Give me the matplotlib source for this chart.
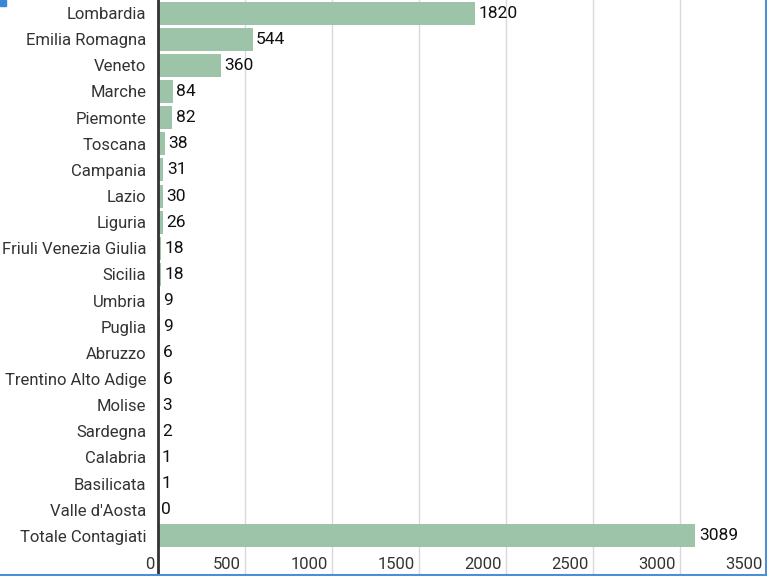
import matplotlib
matplotlib.use("Agg")
import matplotlib.pyplot as plt
from matplotlib.transforms import ScaledTranslation
from matplotlib.patches import Rectangle
from matplotlib.lines import Line2D

regions = ["Lombardia", "Emilia Romagna", "Veneto", "Marche", "Piemonte", "Toscana",
           "Campania", "Lazio", "Liguria", "Friuli Venezia Giulia", "Sicilia", "Umbria",
           "Puglia", "Abruzzo", "Trentino Alto Adige", "Molise", "Sardegna", "Calabria",
           "Basilicata", "Valle d'Aosta", "Totale Contagiati"]
values = [1820, 544, 360, 84, 82, 38, 31, 30, 26, 18, 18, 9, 9, 6, 6, 3, 2, 1, 1, 0, 3089]
xticks = [0, 500, 1000, 1500, 2000, 2500, 3000, 3500]

plt.rcParams['font.family'] = ['Roboto', 'DejaVu Sans']

W, H = 767, 576
fig = plt.figure(figsize=(W / 100, H / 100), dpi=100)
ax = fig.add_axes([158 / W, 0, 1 - 158 / W, 1])

n = len(regions)
ypos = list(range(n))
ax.barh(ypos, values, height=0.88, color="#9dc4a8", zorder=2)

# extra room at bottom for tick labels inside the axes
ax.set_ylim(n - 0.5 + 27 / 26.14, -0.5)
ax.set_xlim(0, 3500)

ax.set_yticks(ypos)
ax.set_yticklabels(regions, fontsize=12, color="#333333")
ax.tick_params(axis='y', length=0, pad=8.5)

ax.set_xticks(xticks)
ax.set_xticklabels([str(t) for t in xticks], fontsize=12, color="#333333")
ax.tick_params(axis='x', length=0, pad=-13.5)
off = ScaledTranslation(-4 / 100, 0, fig.dpi_scale_trans)
for lbl in ax.get_xticklabels():
    lbl.set_ha('right')
    lbl.set_transform(lbl.get_transform() + off)

ax.grid(axis='x', color="#d9d9d9", linewidth=1.0, zorder=0)
ax.set_axisbelow(True)
for s in ['top', 'right', 'bottom']:
    ax.spines[s].set_visible(False)
ax.spines['left'].set_color("#333333")
ax.spines['left'].set_linewidth(2.0)
ax.spines['left'].set_zorder(3)

for y, v in zip(ypos, values):
    ax.annotate(str(v), (v, y), xytext=(2.5, 0), textcoords='offset points',
                ha='left', va='center', fontsize=12.5, color="#111111")

# screenshot frame details
fig.patches.append(Rectangle((0, 1 - 6 / H), 6 / W, 6 / H, transform=fig.transFigure,
                             color="#3d85d6", zorder=10))
fig.lines.append(Line2D([1 - 1.5 / W, 1 - 1.5 / W], [0, 1], transform=fig.transFigure,
                        color="#4a90d9", linewidth=1.5, zorder=10))
fig.lines.append(Line2D([0, 1], [1.5 / H, 1.5 / H], transform=fig.transFigure,
                        color="#4a90d9", linewidth=1.5, zorder=10))

fig.savefig("out.png", dpi=100)
